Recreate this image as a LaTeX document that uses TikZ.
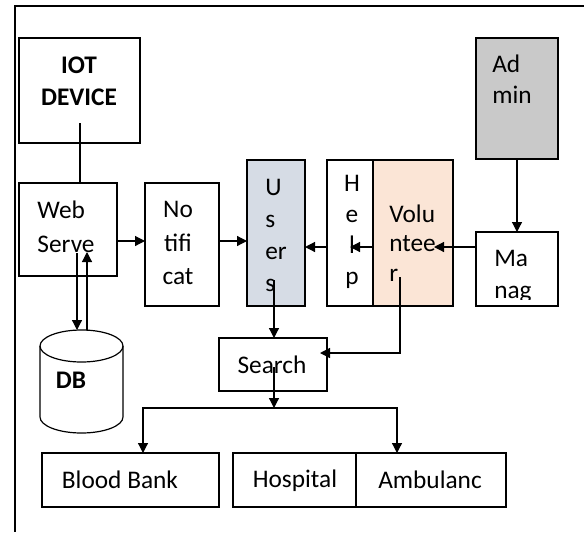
\documentclass[tikz,border=0pt]{standalone}
\usepackage{fontspec}
\setmainfont{Carlito}
\usetikzlibrary{arrows.meta,fit}
\definecolor{usersblue}{HTML}{D6DCE5}
\definecolor{volpeach}{HTML}{FBE5D6}
\definecolor{admingray}{HTML}{C9C9C9}
\tikzset{
    box/.style={draw,line width=0.9pt,inner sep=0pt,outer sep=0pt},
    lbl/.style={inner sep=0pt,align=center,font=\fontsize{19}{#1}\selectfont},
    lbl/.default=24,
    boldlbl/.style={lbl,font=\fontsize{19}{24}\selectfont\bfseries}
}

\begin{document}
\begin{tikzpicture}[
            x=0.75pt,y=-0.75pt,
            link/.style={line width=0.9pt},
            arrow/.style={line width=0.9pt,-{Triangle[length=7.5pt,width=7.5pt]}}
        ]
            \useasboundingbox (0,0) rectangle (584,532);
            % frame, only its top and left edge
            \draw [line width=1pt] (584,6) -- (15,6) -- (15,532);

            % boxes
            \node [box,fit={(19,38) (140,143)}] (iot) {};
            \node [box,fit={(19,183) (117,276)}] (web) {};
            \node [box,fit={(145,183) (219,306)}] (noti) {};
            \node [box,fill=usersblue,fit={(247,160) (305,306)}] (users) {};
            \node [box,fit={(327,160) (373,306)}] (help) {};
            \node [box,fill=volpeach,fit={(373,160) (453,306)}] (vol) {};
            \node [box,fill=admingray,fit={(476,38) (558,159)}] (admin) {};
            \node [box,fit={(476,232) (558,306)}] (manag) {};
            \node [box,fit={(219,338) (327,391)}] (search) {};
            \node [box,fit={(42,453) (219,507)}] (blood) {};
            \node [box,fit={(233,453) (356,507)}] (hosp) {};
            \node [box,fit={(356,453) (506,507)}] (amb) {};

            % database
            \draw [link,fill=white] (40,346) -- (40,417)
                arc[start angle=180,end angle=0,x radius=41.5,y radius=16] -- (123,346);
            \draw [link] (81.5,346) ellipse (41.5 and 16);
            \coordinate (dbtop) at (81.5,330);

            % texts
            \node [boldlbl] (iottxt) at (79,81) {IOT\\DEVICE};
            \node [lbl=25.5,align=left] (webtxt) at (66,227) {Web\\Serve};
            \node [lbl=25] (notitxt) at (178,243) {No\\tifi\\cat};
            \node [lbl,align=left,anchor=west] (userstxt) at (265,235) {U\\s\\er\\s};
            \node [lbl=23.25] (helptxt) at (352,232) {H\\e\\l\\p};
            \node [lbl=22,align=left,anchor=west] (voltxt) at (389,243) {Volu\\ntee\\r};
            \node [lbl=23,align=left,anchor=west] (admintxt) at (492,79) {Ad\\min};
            \begin{scope}
                \clip (476,232) rectangle (558,299);
                \node [lbl,align=left,anchor=west] (managtxt) at (494,277) {Ma\\nag};
            \end{scope}
            \node [boldlbl] (dbtxt) at (71,380) {DB};
            \node [lbl] (searchtxt) at (272,365) {Search};
            \node [lbl] (bloodtxt) at (120,480) {Blood Bank};
            \node [lbl] (hosptxt) at (295,481) {Hospital};
            \node [lbl] (ambtxt) at (430,480) {Ambulanc};

            % connectors
            \coordinate (iotfoot) at (80,123);
            \draw [link] (iotfoot) -- (iotfoot |- web.north);
            \coordinate (rowa) at (0,241);
            \draw [arrow] (web.east |- rowa) -- (noti.west |- rowa);
            \draw [arrow] (noti.east |- rowa) -- (users.west |- rowa);
            \coordinate (rowb) at (0,247);
            \draw [arrow] (help.west |- rowb) -- (users.east |- rowb);
            \draw [arrow] (vol.west |- rowb) -- (help.center |- rowb);
            \coordinate (volin) at (434,247);
            \draw [arrow] (manag.west |- rowb) -- (volin);
            \draw [arrow] (admin.south) -- (manag.north);

            \coordinate (webdown) at (77,253);
            \coordinate (webup) at (87,252);
            \draw [arrow] (webdown) -- (webdown |- dbtop);
            \draw [arrow] (webup |- dbtop) -- (webup);

            \coordinate (usersfoot) at (274,280);
            \draw [arrow] (usersfoot) -- (usersfoot |- search.north);
            \coordinate (volfoot) at (400,277);
            \coordinate (searchin) at (320,353);
            \draw [arrow] (volfoot) |- (searchin);

            \coordinate (searchfoot) at (274,367);
            \coordinate (fork) at (274,408);
            \coordinate (bloodin) at (143,453);
            \coordinate (ambin) at (397,453);
            \draw [arrow] (searchfoot) -- (fork);
            \draw [arrow] (fork) -| (bloodin);
            \draw [arrow] (fork) -| (ambin);
        \end{tikzpicture}
\end{document}
